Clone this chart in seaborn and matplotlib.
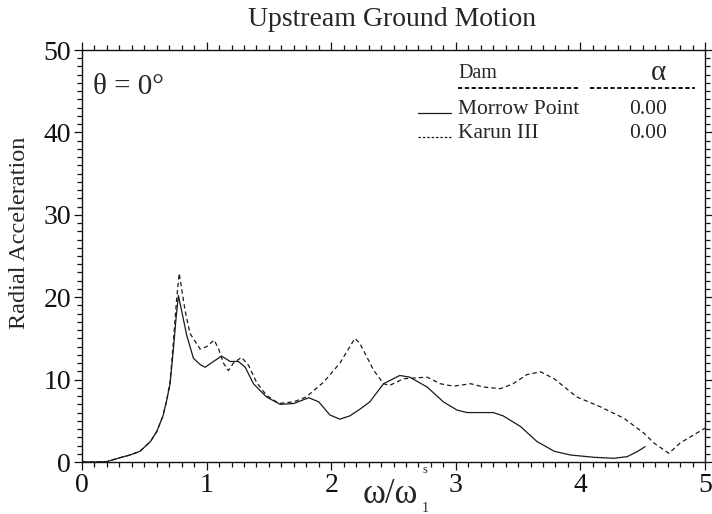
import matplotlib
matplotlib.use("Agg")
import matplotlib.pyplot as plt
from matplotlib.ticker import MultipleLocator
from matplotlib.lines import Line2D
import numpy as np
import pandas as pd
import seaborn as sns

# Frequency ratio and radial acceleration, Morrow Point dam
morrow_x = [0.0, 0.1, 0.2, 0.3, 0.385, 0.466, 0.55, 0.6, 0.65, 0.68, 0.707, 0.733,
            0.755, 0.774, 0.81, 0.84, 0.894, 0.95, 0.988, 1.055, 1.12, 1.19, 1.255,
            1.31, 1.376, 1.48, 1.59, 1.70, 1.82, 1.90, 1.99, 2.07, 2.15, 2.23, 2.31,
            2.42, 2.55, 2.63, 2.77, 2.90, 3.01, 3.09, 3.20, 3.30, 3.38, 3.52, 3.65,
            3.79, 3.92, 4.11, 4.27, 4.375, 4.455, 4.52]
morrow_y = [0.0, 0.0, 0.05, 0.5, 0.85, 1.3, 2.5, 3.7, 5.6, 7.5, 9.5, 13.6,
            17.5, 20.2, 17.6, 15.4, 12.6, 11.8, 11.5, 12.2, 12.85, 12.2, 12.2,
            11.5, 9.5, 7.9, 7.0, 7.1, 7.8, 7.3, 5.7, 5.2, 5.6, 6.4, 7.3,
            9.5, 10.5, 10.3, 9.1, 7.3, 6.3, 6.0, 6.0, 6.0, 5.6, 4.3, 2.5,
            1.3, 0.85, 0.57, 0.45, 0.65, 1.25, 1.86]

# Frequency ratio and radial acceleration, Karun III dam
karun_x = [0.0, 0.1, 0.2, 0.3, 0.385, 0.466, 0.55, 0.6, 0.65, 0.68, 0.707, 0.733,
           0.758, 0.78, 0.827, 0.867, 0.948, 1.0, 1.06, 1.095, 1.135, 1.175, 1.215,
           1.28, 1.336, 1.40, 1.48, 1.58, 1.70, 1.80, 1.94, 2.07, 2.19, 2.23, 2.34,
           2.42, 2.47, 2.58, 2.77, 2.875, 2.98, 3.12, 3.22, 3.36, 3.46, 3.57, 3.68,
           3.79, 3.97, 4.16, 4.35, 4.51, 4.59, 4.71, 4.80, 4.91, 5.0]
karun_y = [0.0, 0.0, 0.05, 0.5, 0.85, 1.3, 2.5, 3.7, 5.6, 7.5, 9.8, 14.5,
           19.5, 22.9, 18.4, 15.6, 13.7, 14.0, 14.8, 13.8, 12.0, 11.1, 12.0,
           12.7, 11.75, 9.7, 8.1, 7.1, 7.3, 7.9, 9.7, 12.0, 15.0, 14.4, 11.15,
           9.5, 9.3, 10.1, 10.3, 9.5, 9.2, 9.5, 9.1, 8.9, 9.5, 10.6, 10.95,
           10.1, 7.9, 6.7, 5.3, 3.5, 2.3, 1.05, 2.3, 3.3, 4.1]

dam_names = ["Morrow Point", "Karun III"]
alpha_values = [0.00, 0.00]

x_ticks = [0, 1, 2, 3, 4, 5]
y_ticks = [0, 10, 20, 30, 40, 50]

sns.set_style("ticks")
plt.rcParams["font.family"] = ["Liberation Serif", "DejaVu Serif"]

fig = plt.figure(figsize=(7.12, 5.14), dpi=100)
ax = fig.add_axes([82 / 712, 52 / 514, 623 / 712, 412 / 514])

line_color = "#1a1a1a"
df_m = pd.DataFrame({"x": morrow_x, "y": morrow_y})
df_k = pd.DataFrame({"x": karun_x, "y": karun_y})
sns.lineplot(data=df_m, x="x", y="y", ax=ax, color=line_color, lw=0.9,
             estimator=None, sort=False)
sns.lineplot(data=df_k, x="x", y="y", ax=ax, color=line_color, lw=0.9,
             estimator=None, sort=False, linestyle=(0, (3.5, 2.5)))

ax.set_xlim(0, 5)
ax.set_ylim(0, 50)
ax.set_xticks(x_ticks)
ax.set_yticks(y_ticks)
ax.set_xticklabels([str(t) for t in x_ticks])
ax.set_yticklabels([str(t) for t in y_ticks])
ax.xaxis.set_minor_locator(MultipleLocator(0.1))
ax.yaxis.set_minor_locator(MultipleLocator(1))
ax.tick_params(which="both", direction="out", top=True, right=True,
               colors="#111111", width=0.9)
ax.tick_params(which="major", length=6, labelsize=20, pad=2)
ax.tick_params(which="minor", length=3.5)
for s in ax.spines.values():
    s.set_linewidth(1.0)
    s.set_color("#111111")
    s.set_visible(True)

ax.set_xlabel("")
ax.set_ylabel("")


def fy(py):
    return 1 - py / 514


def fx(px):
    return px / 712


fig.text(fx(20), fy(233), "Radial Acceleration", rotation=90, ha="center",
         va="center", fontsize=17.5)
fig.text(fx(392), fy(19), "Upstream Ground Motion", ha="center",
         va="center", fontsize=20)

# Axis label: frequency ratio with stacked sub/superscript
fig.text(fx(390), fy(503), "ω/ω", ha="center", va="baseline", fontsize=25)
fig.text(fx(425), fy(470), "s", ha="center", va="center", fontsize=9)
fig.text(fx(425), fy(508), "1", ha="center", va="center", fontsize=10)

fig.text(fx(93), fy(87), "θ = 0°", fontsize=21, ha="left", va="center")

# Legend table drawn as text and short line samples
fig.text(fx(458), fy(74), "Dam", fontsize=14.5, ha="left", va="center")
fig.text(fx(658), fy(73), "α", fontsize=21, ha="center", va="center")
for x0, x1 in [(458, 578), (590, 695)]:
    fig.add_artist(Line2D([fx(x0), fx(x1)], [fy(88), fy(88)], color="#111111",
                          lw=1.4, linestyle=(0, (2.2, 1.3))))
styles = ["-", (0, (2, 1.5))]
rows_y = [110, 133]
sample_y = [113, 137]
for name, a, st, ry, sy in zip(dam_names, alpha_values, styles, rows_y, sample_y):
    fig.add_artist(Line2D([fx(418), fx(451)], [fy(sy), fy(sy)],
                          color=line_color, lw=0.9, linestyle=st))
    fig.text(fx(458), fy(ry), name, fontsize=15.5, ha="left", va="center")
    fig.text(fx(648), fy(ry), f"{a:.2f}", fontsize=15.5, ha="center", va="center")

fig.savefig("out.png", dpi=100, facecolor="white")
